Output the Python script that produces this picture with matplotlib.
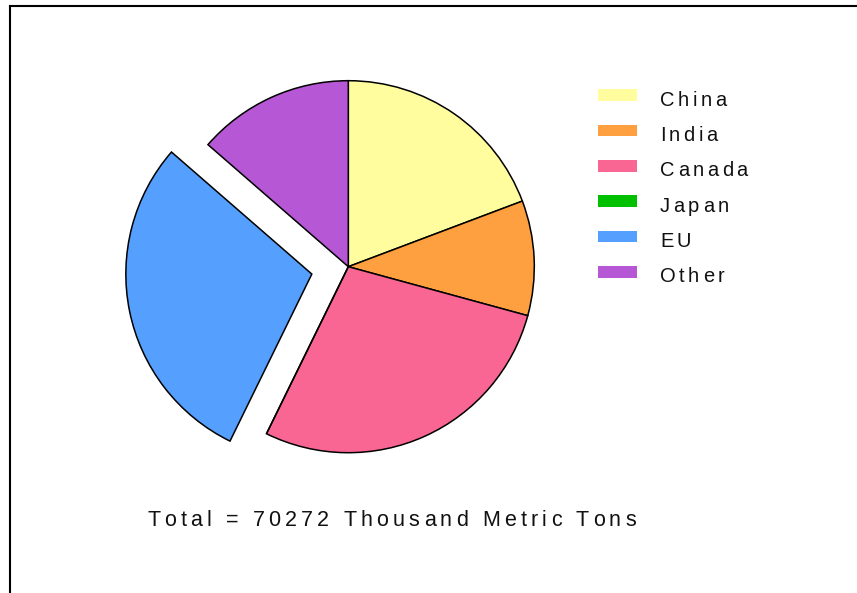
import matplotlib
matplotlib.use("Agg")
import matplotlib.pyplot as plt
from matplotlib.lines import Line2D
from matplotlib.patches import Rectangle
from matplotlib.font_manager import FontProperties, findfont, get_font

# production by country, thousand metric tons
countries = ["China", "India", "Canada", "Japan", "EU", "Other"]
production = [13535, 7013, 19683, 0, 20478, 9563]
colors = ["#FFFD9E", "#FFA040", "#FA6694", "#00C000", "#55A0FF", "#B657D6"]
explode = [0, 0, 0, 0, 0.2, 0]
total_label = "Total = 70272 Thousand Metric Tons"

W, H = 857, 593
FONT = "Liberation Sans"

fig = plt.figure(figsize=(W / 100, H / 100), dpi=100)
fig.patch.set_facecolor("white")


def spaced_text(x, y, s, size, track):
    # draws s letter by letter from (x, y) in pixels (top-left origin), baseline at y
    prop = FontProperties(family=FONT, size=size)
    font = get_font(findfont(prop))
    font.set_size(size, 100)
    for c in s:
        adv = font.load_char(ord(c)).linearHoriAdvance / 65536
        if c != " ":
            fig.text(x / W, 1 - y / H, c, fontproperties=prop,
                     ha="left", va="baseline", color="#111111")
        x += adv + track


# frame lines along the left and top edges
fig.add_artist(Line2D([9.5 / W, 9.5 / W], [0, 1 - 5.8 / H], color="black", lw=1.5,
                      transform=fig.transFigure))
fig.add_artist(Line2D([9.5 / W, 1], [1 - 5.8 / H, 1 - 5.8 / H], color="black", lw=1.5,
                      transform=fig.transFigure))

# pie, radius 186 px centred at (348, 267)
R = 186.0
cx, cy = 348.3, 266.7
half = 250.0
ax = fig.add_axes([(cx - half) / W, (H - cy - half) / H, 2 * half / W, 2 * half / H])
wedges, _ = ax.pie(production, colors=colors, explode=explode, startangle=90,
                   counterclock=False, radius=1.0,
                   wedgeprops=dict(edgecolor="black", linewidth=1.1))
for w in wedges:
    w.set_clip_on(False)
L = half / R
ax.set_xlim(-L, L)
ax.set_ylim(-L, L)
ax.set_aspect("equal")
ax.axis("off")

# legend
row_y = [95, 130.4, 165.8, 201.2, 236.6, 272]
for name, col, yc in zip(countries, colors, row_y):
    fig.add_artist(Rectangle((597.7 / W, 1 - (yc + 5.8) / H), 39.3 / W, 11.6 / H,
                             facecolor=col, edgecolor="none", transform=fig.transFigure))
    spaced_text(660, yc + 10.5, name, 14.5, 3.4)

spaced_text(147, 525.7, total_label, 15.5, 4.15)

fig.savefig("out.png", dpi=100, facecolor="white")
